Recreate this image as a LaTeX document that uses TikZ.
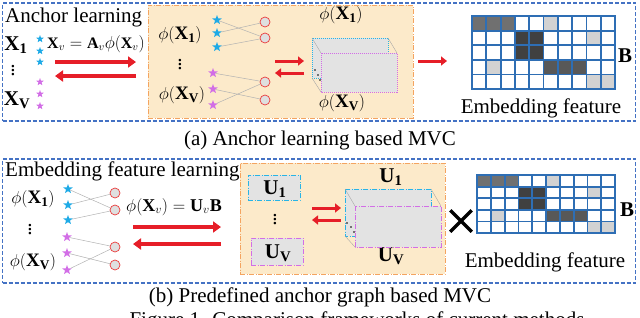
\documentclass[tikz,border=0pt]{standalone}
\usepackage{amsmath,amssymb}
\usepackage{fontspec}
\setmainfont{Liberation Serif}
\usepackage{tikz}
\usetikzlibrary{arrows.meta,positioning,shapes.geometric,shapes.misc}
\definecolor{panelblue}{RGB}{68,114,196}
\definecolor{boxorange}{RGB}{244,164,96}
\definecolor{boxfill}{RGB}{252,234,202}
\definecolor{starblue}{RGB}{30,170,230}
\definecolor{starpurple}{RGB}{210,110,230}
\definecolor{ancred}{RGB}{235,60,60}
\definecolor{arrred}{RGB}{230,30,40}
\definecolor{gridblue}{RGB}{46,110,180}
\definecolor{cubecyan}{RGB}{40,180,230}
\definecolor{cubepink}{RGB}{210,110,230}
\definecolor{cellA}{RGB}{112,112,112}
\definecolor{cellB}{RGB}{64,64,64}
\definecolor{cellC}{RGB}{88,88,88}
\definecolor{cellD}{RGB}{210,210,210}

\begin{document}
\begin{tikzpicture}[x=1pt,y=-1pt,
  panel/.style={draw=panelblue,dash pattern=on 4pt off 2pt,line width=1.2pt,inner sep=0pt},
  orgbox/.style={draw=boxorange,fill=boxfill,dash pattern=on 5pt off 1.5pt on 1pt off 1.5pt,line width=1pt,inner sep=0pt},
  lbl/.style={font=\fontsize{21}{24}\selectfont,inner sep=0pt},
  mlbl/.style={font=\fontsize{19}{22}\selectfont,inner sep=0pt},
  bstar/.style={star,star points=5,star point ratio=2.4,fill=starblue,minimum size=10pt,inner sep=0pt},
  pstar/.style={bstar,fill=starpurple},
  anc/.style={circle,draw=ancred,fill=gray!25,minimum size=10pt,inner sep=0pt,line width=0.7pt},
  link/.style={draw=gray!60,line width=0.5pt},
  redarr/.style={draw=arrred,line width=3.5pt,-{Triangle[length=8pt,width=11pt]}},
  sredarr/.style={draw=arrred,line width=3pt,-{Triangle[length=6pt,width=9pt]}},
  ubox/.style={fill=gray!22,dash pattern=on 5pt off 1.5pt on 1pt off 1.5pt,line width=1pt,inner sep=0pt},
  embgrid/.pic={
    \foreach \c/\r/\clr in {1/1/cellA,2/1/cellA,3/1/cellA,6/1/cellD,4/2/cellB,5/2/cellB,9/2/cellD,
      4/3/cellB,5/3/cellB,2/4/cellD,6/4/cellC,7/4/cellC,8/4/cellC,9/5/cellD,10/5/cellD}
      \fill[\clr] (\c-1,\r-1) rectangle (\c,\r);
    \foreach \i in {0,...,10} \draw[gridblue,line width=1.8pt] (\i,0) -- (\i,5);
    \foreach \j in {0,...,5} \draw[gridblue,line width=1.8pt] (-0.06,\j) -- (10.06,\j);
  }
]
  \useasboundingbox (0,0) rectangle (640,317);
  \clip (0,0) rectangle (640,317);

  % (a) anchor learning
  \node[panel,minimum width=633pt,minimum height=118pt] (panA) at (319,62) {};
  \node[orgbox,minimum width=265pt,minimum height=113pt] (boxA) at (280.5,61.5) {};
  \node[lbl,anchor=west] (ttlA) at (5,17) {Anchor learning};
  \node[lbl] (xa1) at (16,45) {$\mathbf{X}_{\mathbf{1}}$};
  \node[lbl] (xadots) at (13,68) {$\vdots$};
  \node[lbl] (xav) at (17,100) {$\mathbf{X}_{\mathbf{V}}$};
  \foreach \y [count=\k] in {39,51,62} \node[bstar,minimum size=8pt] (la\k) at (40,\y) {};
  \foreach \y [count=\k] in {82,94,106} \node[pstar,minimum size=8pt] (lp\k) at (40,\y) {};
  \node[font=\fontsize{16}{18}\selectfont,inner sep=0pt] (eqA) at (96,44) {$\mathbf{X}_v=\mathbf{A}_v\phi(\mathbf{X}_v)$};
  \coordinate (ra1) at (55,62); \coordinate (ra2) at (136,62);
  \coordinate (la1) at (136,76); \coordinate (la2) at (55,76);
  \draw[redarr] (ra1) -- (ra2);
  \draw[redarr] (la1) -- (la2);

  \node[mlbl] (pa1) at (180,35) {$\phi(\mathbf{X}_{\mathbf{1}})$};
  \node[lbl] (padots) at (180,62) {$\vdots$};
  \node[mlbl] (pav) at (182,95) {$\phi(\mathbf{X}_{\mathbf{V}})$};
  \foreach \y [count=\k] in {20,33,47} \node[bstar] (sa\k) at (217,\y) {};
  \foreach \y [count=\k] in {73,89,105} \node[pstar] (sp\k) at (213,\y) {};
  \foreach \y [count=\k] in {22,38,82,100} \node[anc] (ca\k) at (265,\y) {};
  \draw[link] (sa1) -- (ca2); \draw[link] (sa2) -- (ca1); \draw[link] (sa3) -- (ca2);
  \draw[link] (sp1) -- (ca3); \draw[link] (sp2) -- (ca4); \draw[link] (sp3) -- (ca3);
  \coordinate (rb1) at (275,61); \coordinate (rb2) at (304,61);
  \coordinate (lb1) at (304,73); \coordinate (lb2) at (275,73);
  \draw[sredarr] (rb1) -- (rb2);
  \draw[sredarr] (lb1) -- (lb2);

  \node[mlbl] (cubA1) at (341,15) {$\phi(\mathbf{X}_{\mathbf{1}})$};
  \node[mlbl] (cubAv) at (342,103) {$\phi(\mathbf{X}_{\mathbf{V}})$};
  \draw[cubecyan,densely dotted,line width=1pt,fill=gray!22] (312,38) rectangle (388,78);
  \draw[gray!70,line width=0.4pt] (312,38) -- (321,53) (388,38) -- (397,53) (312,78) -- (321,92);
  \draw[cubepink,densely dotted,line width=1pt,fill=gray!22] (321,53) rectangle (397,92);
  \foreach \p in {(315,70),(318,75),(320,80)} \fill \p circle (0.8pt);

  \coordinate (rc1) at (418,61); \coordinate (rc2) at (447,61);
  \draw[sredarr] (rc1) -- (rc2);
  \begin{scope}[shift={(472,16)},x=14.3pt,y=-14.6pt]
    \pic {embgrid};
  \end{scope}
  \node[lbl] (bA) at (625,56) {\textbf{B}};
  \node[lbl] (embA) at (541,108) {Embedding feature};
  \node[lbl] (capA) at (320,140) {(a) Anchor learning based MVC};

  % (b) predefined anchor graph
  \node[panel,minimum width=633pt,minimum height=124pt] (panB) at (319,221) {};
  \node[orgbox,minimum width=205pt,minimum height=111pt] (boxB) at (342.5,218.5) {};
  \node[lbl,anchor=west] (ttlB) at (5,171) {Embedding feature learning};
  \node[mlbl] (pb1) at (33,199) {$\phi(\mathbf{X}_{\mathbf{1}})$};
  \node[lbl] (pbdots) at (30,227) {$\vdots$};
  \node[mlbl] (pbv) at (33,262) {$\phi(\mathbf{X}_{\mathbf{V}})$};
  \foreach \y [count=\k] in {189,205,220} \node[bstar] (sb\k) at (68,\y) {};
  \foreach \y [count=\k] in {237,253,270} \node[pstar] (sq\k) at (67,\y) {};
  \foreach \y [count=\k] in {193,210,247,265} \node[anc] (cb\k) at (115,\y) {};
  \draw[link] (sb1) -- (cb2); \draw[link] (sb2) -- (cb1); \draw[link] (sb3) -- (cb2);
  \draw[link] (sq1) -- (cb3); \draw[link] (sq2) -- (cb4); \draw[link] (sq3) -- (cb3);
  \node[font=\fontsize{18}{20}\selectfont,inner sep=0pt] (eqB) at (174,207) {$\phi(\mathbf{X}_v)=\mathbf{U}_v\mathbf{B}$};
  \coordinate (rd1) at (133,227); \coordinate (rd2) at (221,227);
  \coordinate (ld1) at (221,244); \coordinate (ld2) at (133,244);
  \draw[redarr] (rd1) -- (rd2);
  \draw[redarr] (ld1) -- (ld2);

  \node[ubox,draw=cubecyan,minimum width=52pt,minimum height=25pt] (u1box) at (274,187.5) {};
  \node[lbl] (u1) at (275,189) {$\mathbf{U}_{\mathbf{1}}$};
  \node[lbl] (udots) at (275,217) {$\vdots$};
  \node[ubox,draw=cubepink,minimum width=52pt,minimum height=27pt] (uvbox) at (277,251.5) {};
  \node[lbl] (uv) at (278,253) {$\mathbf{U}_{\mathbf{V}}$};
  \coordinate (re1) at (312,208); \coordinate (re2) at (341,208);
  \coordinate (le1) at (341,220); \coordinate (le2) at (312,220);
  \draw[sredarr] (re1) -- (re2);
  \draw[sredarr] (le1) -- (le2);

  \node[lbl] (cubB1) at (391,177) {$\mathbf{U}_{\mathbf{1}}$};
  \node[lbl] (cubBv) at (391,256) {$\mathbf{U}_{\mathbf{V}}$};
  \draw[cubecyan,dash pattern=on 5pt off 1.5pt on 1pt off 1.5pt,line width=1pt,fill=gray!22] (345,189) rectangle (431,236);
  \draw[gray!70,line width=0.4pt] (345,189) -- (355,206) (431,189) -- (441,206) (345,236) -- (355,247);
  \draw[cubepink,dash pattern=on 5pt off 1.5pt on 1pt off 1.5pt,line width=1pt,fill=gray!22] (355,206) rectangle (441,247);
  \foreach \p in {(347,223),(351,227),(354,232)} \fill \p circle (0.8pt);

  \node[cross out,draw,line width=3.5pt,minimum size=18pt,inner sep=0pt] (mult) at (461,221) {};
  \begin{scope}[shift={(477,175)},x=13.8pt,y=-11.6pt]
    \pic {embgrid};
  \end{scope}
  \node[lbl] (bB) at (627,210) {\textbf{B}};
  \node[lbl] (embB) at (545,262) {Embedding feature};
  \node[lbl] (capB) at (320,297) {(b) Predefined anchor graph based MVC};
  \node[lbl,anchor=base] (figcap) at (357,326) {Figure 1. Comparison frameworks of current methods};
\end{tikzpicture}
\end{document}
